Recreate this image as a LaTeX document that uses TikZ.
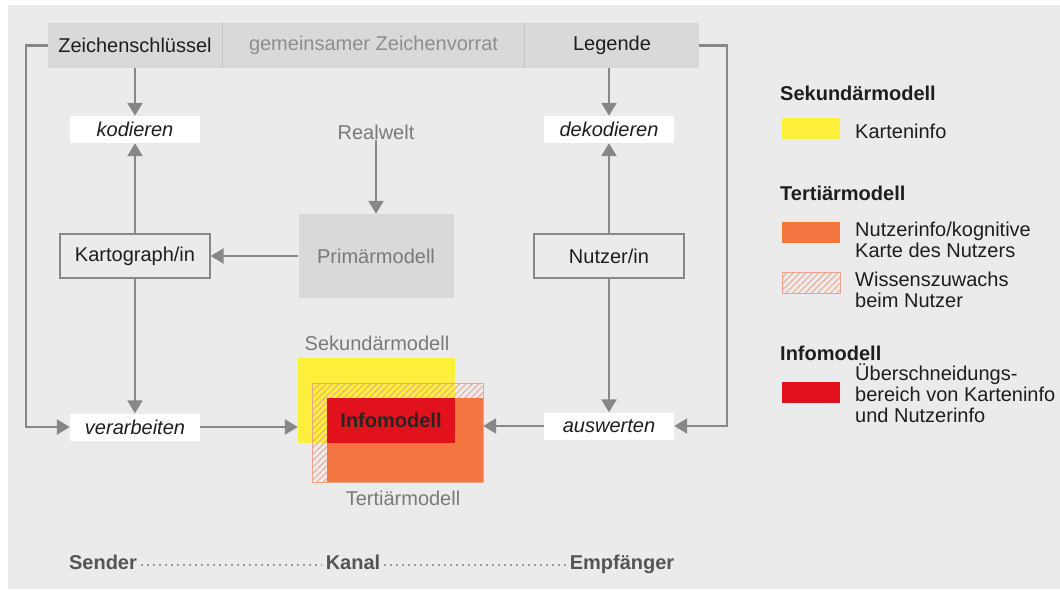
\documentclass[tikz,border=0pt]{standalone}
\usepackage{fontspec}
\setmainfont{Liberation Sans}
\usetikzlibrary{arrows.meta,patterns.meta}

\definecolor{panel}{HTML}{EBEBEB}
\definecolor{barfill}{HTML}{D9D9D9}
\definecolor{sepline}{HTML}{C4C4C4}
\definecolor{linegray}{HTML}{878787}
\definecolor{textgray}{HTML}{7A7A7A}
\definecolor{darktext}{HTML}{1E1E1E}
\definecolor{footgray}{HTML}{555555}
\definecolor{kartgelb}{HTML}{FEF03A}
\definecolor{nutzorange}{HTML}{F37640}
\definecolor{inforot}{HTML}{E1121B}
\definecolor{hatchc}{HTML}{EDA48A}

\tikzset{
	txt/.style={font=\fontsize{20}{21}\selectfont, text=darktext, inner sep=0pt},
	bar/.style={txt, fill=barfill, minimum height=45pt},
	wbox/.style={txt, font=\fontsize{20}{21}\selectfont\itshape, fill=white, minimum width=130pt, minimum height=27pt},
	pbox/.style={txt, draw=linegray, line width=1.4pt, minimum width=150pt, minimum height=44pt},
	arr/.style={draw=linegray, line width=2.4pt, -{Triangle[width=15pt,length=13pt]}},
	swatch/.style={minimum width=58pt, minimum height=21pt, inner sep=0pt},
	hatched/.style={pattern={Lines[angle=45,distance=4.5pt,line width=0.9pt]}, pattern color=hatchc, draw=hatchc, line width=0.8pt},
	head/.style={txt, font=\fontsize{20}{21}\selectfont\bfseries, anchor=west},
	legtext/.style={txt, anchor=west, align=left},
	foot/.style={txt, font=\fontsize{20}{21}\selectfont\bfseries, text=footgray, anchor=base},
	dots/.style={draw=linegray!85, line width=1.7pt, dash pattern=on 1.7pt off 4.3pt}
}

\begin{document}
\begin{tikzpicture}[x=1pt,y=-1pt]
	\useasboundingbox (0,0) rectangle (1060,589);
	\fill[panel] (8,5) rectangle (1060,589);

	\node [bar, minimum width=174pt](zs) at (135,45.5) {Zeichenschlüssel};
	\node [bar, minimum width=303pt, text=textgray!85](gz) at (373.5,45.5) {gemeinsamer Zeichenvorrat};
	\node [bar, minimum width=174pt](leg) at (612,45.5) {Legende};
	\draw [sepline, line width=1.2pt](zs.north east) -- (zs.south east);
	\draw [sepline, line width=1.2pt](leg.north west) -- (leg.south west);

	\node [wbox](kod) at (135,129.5) {kodieren};
	\node [wbox](dekod) at (609,129.5) {dekodieren};
	\node [txt, text=textgray](real) at (376,132) {Realwelt};

	\node [pbox](karto) at (135,256) {Kartograph/in};
	\node [txt, text=textgray, fill=barfill, minimum width=155pt, minimum height=84pt](prim) at (376,256) {Primärmodell};
	\node [pbox](nutzer) at (609,256) {Nutzer/in};

	\node [wbox](verarb) at (135,427) {verarbeiten};
	\node [wbox](ausw) at (609,426) {auswerten};

	\node [txt, text=textgray](sektxt) at (377,343) {Sekundärmodell};
	\node [swatch, fill=kartgelb, minimum width=157pt, minimum height=85pt](sek) at (376.5,400.5) {};
	\node [swatch, hatched, minimum width=171pt, minimum height=99pt](wiss) at (397.5,432.5) {};
	\node [swatch, fill=nutzorange, minimum width=156pt, minimum height=84pt](ter) at (405,440) {};
	\node [swatch, fill=inforot, minimum width=128pt, minimum height=45pt, font=\fontsize{20}{21}\selectfont\bfseries, text=black!85](info) at (391,420.5) {Infomodell};
	\node [txt, text=textgray](tertxt) at (403,498) {Tertiärmodell};

	\draw [arr](zs.south -| kod.north) -- (kod.north);
	\draw [arr](leg.south -| dekod.north) -- (dekod.north);
	\draw [arr](real) -- (prim);
	\draw [arr](prim) -- (karto);
	\draw [arr](karto) -- (kod);
	\draw [arr](karto) -- (verarb);
	\draw [arr](nutzer) -- (dekod);
	\draw [arr](nutzer) -- (ausw);
	\draw [arr](verarb.east) -- (verarb.east -| sek.west);
	\draw [arr](ausw.west) -- (ausw.west -| ter.east);
	\draw [arr](zs.west) -- ++(-22,0) |- (verarb.west);
	\draw [arr](leg.east) -- ++(28,0) |- (ausw.east);

	\node [head](h1) at (780,93) {Sekundärmodell};
	\node [swatch, fill=kartgelb](s1) at (811,128) {};
	\node [legtext](l1) at (855,131) {Karteninfo};

	\node [head](h2) at (780,193) {Tertiärmodell};
	\node [swatch, fill=nutzorange](s2) at (811,232.5) {};
	\node [legtext](l2) at (855,239.5) {Nutzerinfo/kognitive\\Karte des Nutzers};
	\node [swatch, hatched](s3) at (811,282.5) {};
	\node [legtext](l3) at (855,289.5) {Wissenszuwachs\\beim Nutzer};

	\node [head](h3) at (780,353) {Infomodell};
	\node [swatch, fill=inforot](s4) at (811,392.5) {};
	\node [legtext](l4) at (855,393) {Überschneidungs-\\bereich von Karteninfo\\und Nutzerinfo};

	\node [foot](send) at (103,569) {Sender};
	\node [foot](kanal) at (353,569) {Kanal};
	\node [foot](empf) at (622,569) {Empfänger};
	\draw [dots]([xshift=4pt,yshift=4pt]send.base east) -- ([xshift=-4pt,yshift=4pt]kanal.base west);
	\draw [dots]([xshift=4pt,yshift=4pt]kanal.base east) -- ([xshift=-4pt,yshift=4pt]empf.base west);

\end{tikzpicture}
\end{document}
